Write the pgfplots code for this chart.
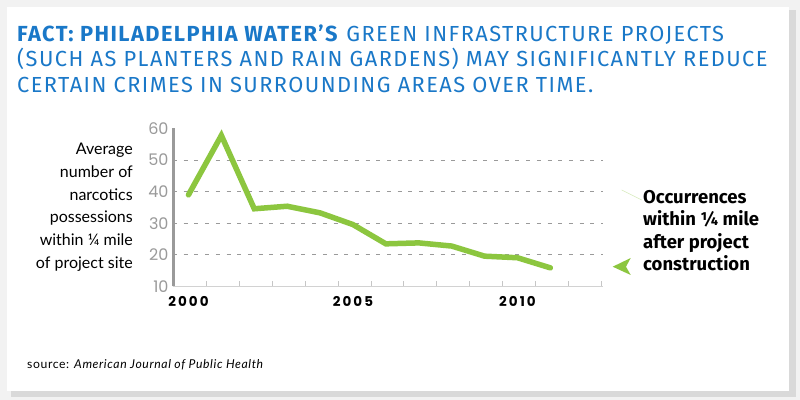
\documentclass[border=0pt]{standalone}
\usepackage{pgfplots}
\pgfplotsset{compat=1.18}
\usepackage{fontspec}
\setmainfont{Fira Sans}
\newfontfamily\titlefont[LetterSpace=6.6]{Fira Sans}
\newfontfamily\popfont{Poppins}
\newfontfamily\yearfont[LetterSpace=15]{Poppins}
\newfontfamily\latofont{Lato}
\newfontfamily\srcfont[LetterSpace=5]{Lato}
\definecolor{titleblue}{HTML}{1A78C8}
\definecolor{lgreen}{HTML}{8CC63F}
\definecolor{axgray}{HTML}{9A9A9A}
\begin{document}
\begin{tikzpicture}
\fill[gray!10] (0,0) rectangle (800bp,400bp);
\fill[gray!30] (11bp,3bp) rectangle (796bp,390bp);
\fill[white] (7bp,9bp) rectangle (789bp,393bp);
\useasboundingbox (0,0) rectangle (800bp,400bp);
% title
\begin{scope}[every node/.style={anchor=base west,inner sep=0pt,text=titleblue,font=\titlefont\fontsize{21.8bp}{26bp}\selectfont}]
\node at (17bp,358bp) {\textbf{FACT: PHILADELPHIA WATER’S} GREEN INFRASTRUCTURE PROJECTS};
\node at (17bp,333bp) {(SUCH AS PLANTERS AND RAIN GARDENS) MAY SIGNIFICANTLY REDUCE};
\node at (17bp,307bp) {CERTAIN CRIMES IN SURROUNDING AREAS OVER TIME.};
\end{scope}
% y label
\begin{scope}[every node/.style={anchor=base east,inner sep=0pt,font=\latofont\fontsize{16bp}{18bp}\selectfont}]
\node at (133bp,245bp) {Average};
\node at (133bp,222.3bp) {number of};
\node at (133bp,199.6bp) {narcotics};
\node at (133bp,177bp) {possessions};
\node at (133bp,154.2bp) {within ¼ mile};
\node at (133bp,131.5bp) {of project site};
\end{scope}
% right label
\begin{scope}[every node/.style={anchor=base west,inner sep=0pt,font=\bfseries\fontsize{18.5bp}{20bp}\selectfont}]
\node at (643bp,196bp) {Occurrences};
\node at (643bp,174bp) {within ¼ mile};
\node at (643bp,151.5bp) {after project};
\node at (643bp,129.3bp) {construction};
\end{scope}
\draw[line width=0.6bp, lgreen!35] (621.7bp,210bp) -- (641.7bp,200bp);
\fill[lgreen] (612.7bp,133.3bp) -- (630.7bp,142bp) -- (626bp,133.3bp) -- (630.7bp,125bp) -- cycle;
% source
\node[anchor=base west,inner sep=0pt,font=\srcfont\fontsize{12.2bp}{14bp}\selectfont] at (27bp,32bp) {source: \textit{American Journal of Public Health}};
\begin{axis}[
  at={(173bp,113.5bp)}, anchor=south west,
  width=430bp, height=158bp, scale only axis,
  xmin=1999.53, xmax=2012.6, ymin=10, ymax=60,
  axis lines*=left,
  clip=false,
  /pgf/number format/assume math mode=true,
  y axis line style={line width=3bp, axgray},
  x axis line style={line width=1.5bp, gray!35},
  major tick length=0pt,
  ytick={10,20,...,60},
  yticklabel style={font=\popfont\fontsize{16bp}{16bp}\selectfont, text=axgray, xshift=-1bp},
  xtick={2000,2005,2010},
  xticklabels={2000,2005,2010},
  xticklabel style={font=\yearfont\bfseries\fontsize{13.5bp}{14bp}\selectfont, text=black, yshift=-6bp},
  minor xtick={2000.55,2001.55,...,2012.55},
  minor tick length=5bp, tick align=inside,
  minor x tick style={gray!45, line width=1bp},
  extra y ticks={20,30,40,50}, extra y tick labels={},
  extra y tick style={grid=major, major grid style={dash pattern=on 4bp off 6.7bp, axgray, line width=0.9bp}},
]
\addplot[lgreen, line width=5.5bp, line join=miter, line cap=round] coordinates {
(2000,39.0)(2001,57.8)(2002,34.6)(2003,35.4)(2004,33.3)(2005,29.6)(2006,23.5)(2007,23.8)(2008,22.8)(2009,19.6)(2010,19.1)(2011,15.9)};
\end{axis}
\end{tikzpicture}
\end{document}
